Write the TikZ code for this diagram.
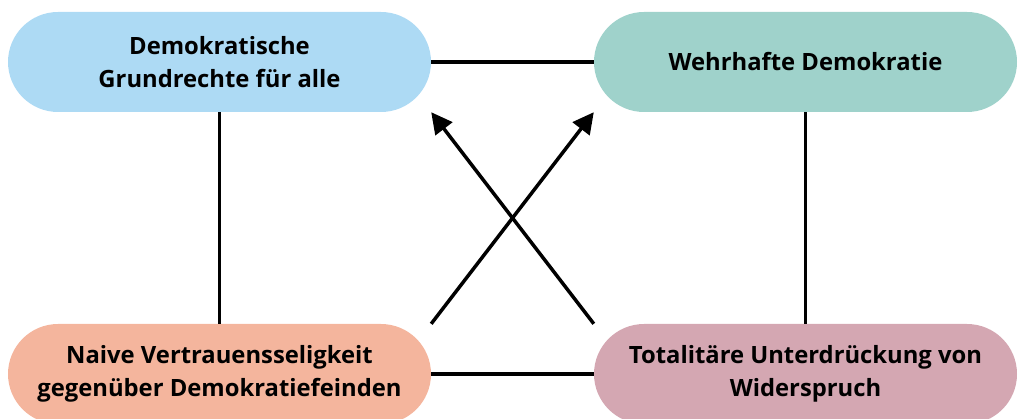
\documentclass[tikz,border=0pt]{standalone}
\usepackage{fontspec}
\setmainfont{Open Sans}
\usetikzlibrary{arrows.meta}
\definecolor{cblue}{HTML}{ADDAF4}
\definecolor{cteal}{HTML}{9FD2CB}
\definecolor{csalmon}{HTML}{F4B59D}
\definecolor{cpink}{HTML}{D4A7B2}
\begin{document}
\begin{tikzpicture}[x=1pt,y=-1pt,
  pill/.style={rounded corners=50pt, minimum width=423pt, minimum height=100pt, inner sep=0pt,
    align=center, font=\fontsize{23.8}{33}\selectfont\bfseries, text=black},
  conn/.style={line width=3.5pt, black},
  arr/.style={conn, -{Triangle[length=21pt,width=21pt]}}]
\useasboundingbox (0,0) rectangle (1020,419);
\node[pill, fill=cblue] (tl) at (219.5,62) {Demokratische\\Grundrechte für alle};
\node[pill, fill=cteal] (tr) at (805.5,62) {Wehrhafte Demokratie};
\node[pill, fill=csalmon] (bl) at (219.5,374) {Naive Vertrauensseligkeit\\gegenüber Demokratiefeinden};
\node[pill, fill=cpink] (br) at (805.5,374) {Totalitäre Unterdrückung von\\Widerspruch};
\draw[conn] (tl.east) -- (tr.west);
\draw[conn] (bl.east) -- (br.west);
\draw[conn] (tl.south) -- (bl.north);
\draw[conn] (tr.south) -- (br.north);
\draw[arr] (bl.north east) -- (tr.south west);
\draw[arr] (br.north west) -- (tl.south east);
\end{tikzpicture}
\end{document}
